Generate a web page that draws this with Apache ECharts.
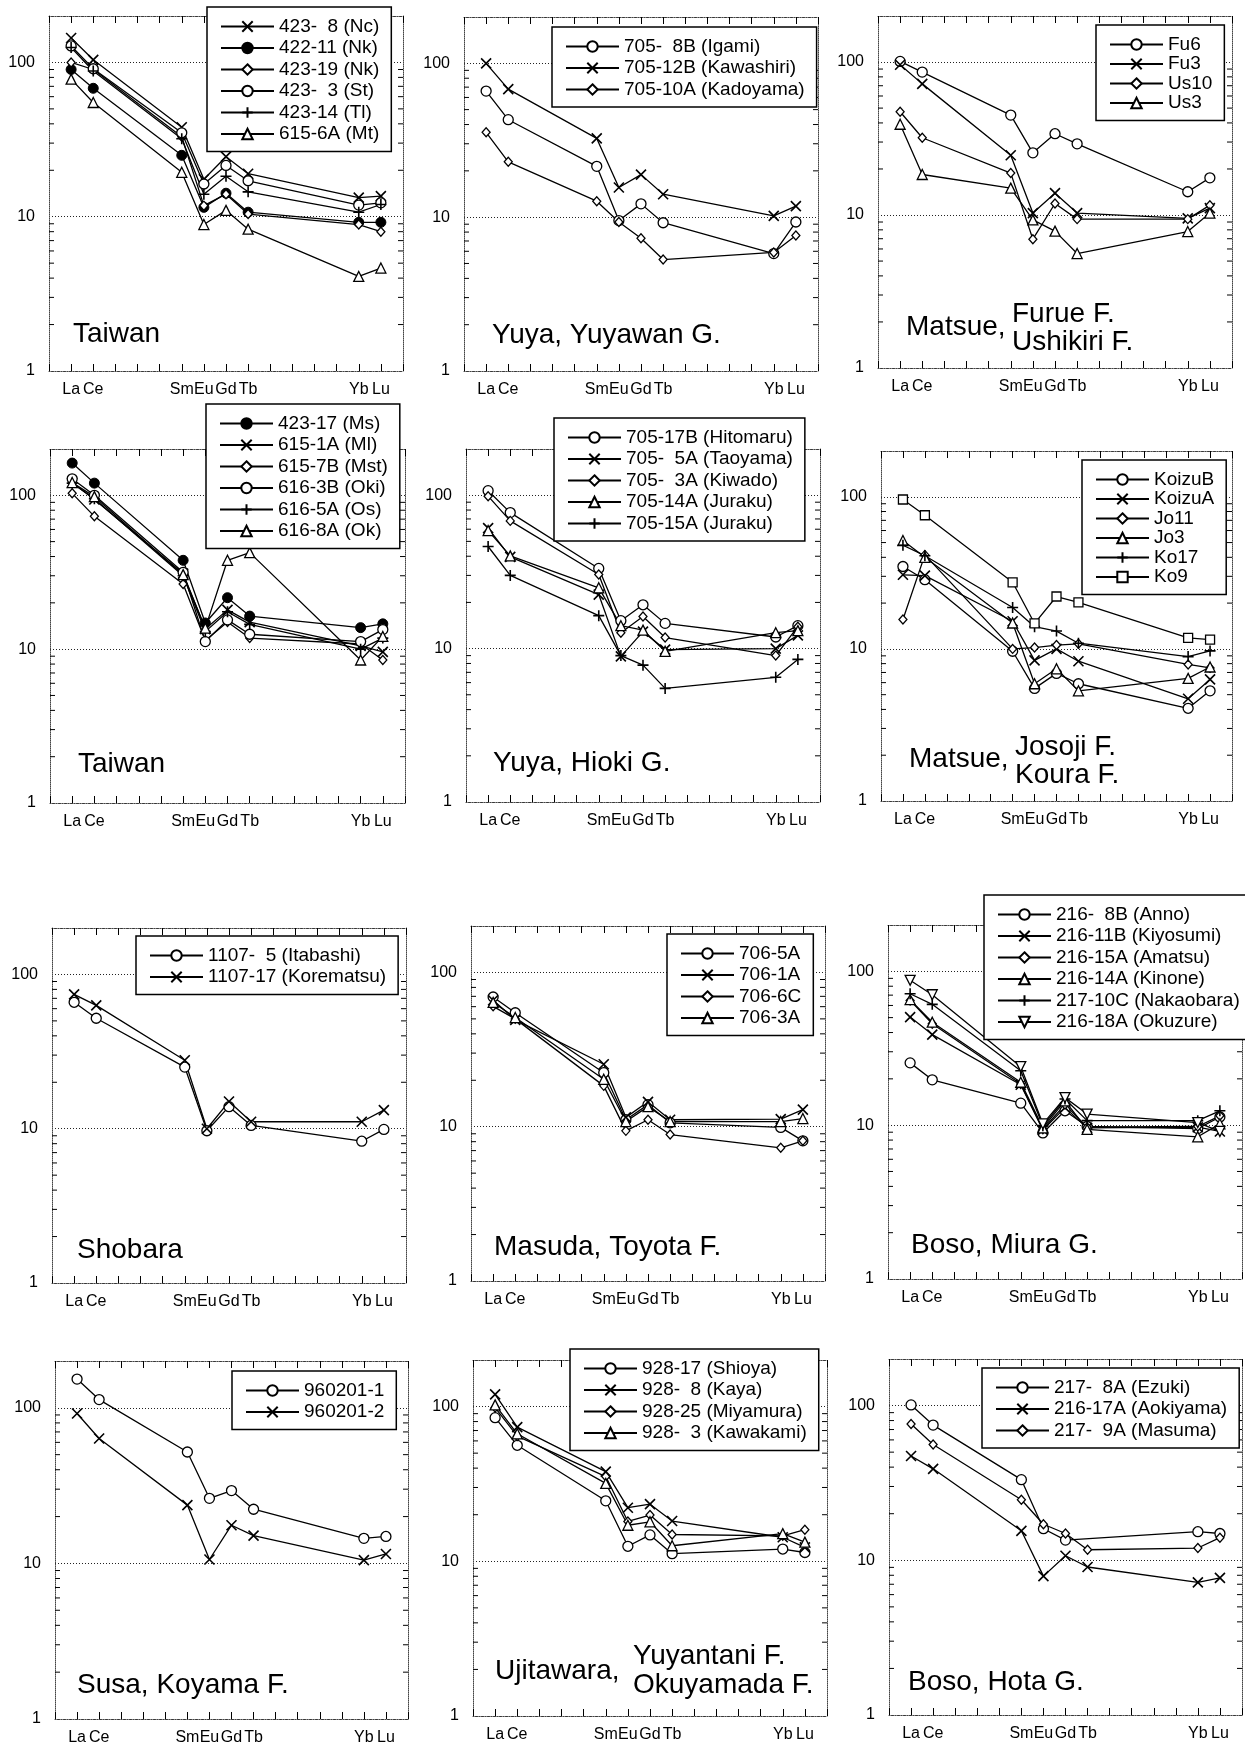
<!DOCTYPE html>
<html><head><meta charset="utf-8">
<script src="https://cdn.jsdelivr.net/npm/echarts@6/dist/echarts.min.js"></script>
<style>html,body{margin:0;padding:0;background:#fff}#c{width:1245px;height:1748px}</style>
</head><body><div id="c"></div>
<script>
// ---------- data ----------
const REE = ['', 'La','Ce','Pr','Nd','Pm','Sm','Eu','Gd','Tb','Dy','Ho','Er','Tm','Yb','Lu',''];
const MEASURED = ['La','Ce','Sm','Eu','Gd','Tb','Yb','Lu'];
const Y_TICKS = [1, 10, 100];
const Y_MINOR = [2,3,4,5,6,7,8,9,20,30,40,50,60,70,80,90];

const p1Title = ['Taiwan'];
const p1Names = ['423-  8 (Nc)', '422-11 (Nk)', '423-19 (Nk)', '423-  3 (St)', '423-14 (Tl)', '615-6A (Mt)'];
const p1Values = [
  [144, 104, 38, 17.5, 24.5, 19, 13.3, 13.6],
  [90, 68, 25, 11.5, 14.2, 10.7, 9.2, 9.2],
  [100, 90, 33, 11.8, 14, 10.4, 8.9, 8.0],
  [128, 91, 35, 16.3, 21.5, 17.1, 11.9, 12.3],
  [125, 88, 32, 14, 18.3, 14.5, 10.7, 12],
  [78, 55, 19.4, 8.9, 11, 8.3, 4.1, 4.65]
];
const p2Title = ['Yuya, Yuyawan G.'];
const p2Names = ['705-  8B (Igami)', '705-12B (Kawashiri)', '705-10A (Kadoyama)'];
const p2Values = [
  [66, 43, 21.4, 9.5, 12.2, 9.2, 5.8, 9.3],
  [100, 68, 32.5, 15.6, 18.9, 14.1, 10.2, 11.8],
  [35.6, 22.9, 12.7, 9.3, 7.3, 5.3, 5.9, 7.6]
];
const p3Title = ['Matsue,', 'Furue F.', 'Ushikiri F.'];
const p3Names = ['Fu6', 'Fu3', 'Us10', 'Us3'];
const p3Values = [
  [101, 86, 45, 25.5, 34, 29.2, 14.2, 17.5],
  [96, 72, 24.6, 10.3, 13.9, 10.3, 9.5, 11.1],
  [47.3, 32, 18.8, 6.95, 11.9, 9.4, 9.4, 11.6],
  [39.2, 18.4, 15, 9.3, 7.85, 5.6, 7.8, 10.3]
];
const p4Title = ['Taiwan'];
const p4Names = ['423-17 (Ms)', '615-1A (Ml)', '615-7B (Mst)', '616-3B (Oki)', '616-5A (Os)', '616-8A (Ok)'];
const p4Values = [
  [162, 120, 37.8, 14.8, 21.6, 16.4, 13.8, 14.6],
  [121, 94, 31, 13.5, 18, 15, 10.5, 9.6],
  [103, 73, 26.5, 11.4, 15, 11.8, 10.8, 8.5],
  [128, 100, 31.6, 11.2, 15.5, 12.5, 11.2, 13.4],
  [120, 95, 30, 13, 17.5, 14.5, 10, 11.8],
  [121, 98, 30.5, 13.7, 37.8, 42.4, 8.5, 12.1]
];
const p5Title = ['Yuya, Hioki G.'];
const p5Names = ['705-17B (Hitomaru)', '705-  5A (Taoyama)', '705-  3A (Kiwado)', '705-14A (Juraku)', '705-15A (Juraku)'];
const p5Values = [
  [107, 77, 33.3, 15.2, 19.3, 14.6, 11.9, 14.1],
  [61, 39.6, 22.5, 8.9, 12.9, 9.85, 10, 12.2],
  [98.5, 68, 30.4, 12.7, 16.2, 11.8, 9.0, 13.9],
  [58.8, 40.2, 24.9, 14.1, 13.2, 9.6, 12.7, 13.1],
  [46.3, 30, 16.4, 9.0, 7.8, 5.5, 6.5, 8.5]
];
const p6Title = ['Matsue,', 'Josoji F.', 'Koura F.'];
const p6Names = ['KoizuB', 'KoizuA', 'Jo11', 'Jo3', 'Ko17', 'Ko9'];
const p6Values = [
  [34.8, 28.5, 9.65, 5.5, 6.9, 5.9, 4.07, 5.3],
  [30.7, 30.3, 15.2, 8.4, 10, 8.3, 4.7, 6.3],
  [15.6, 41.5, 10, 10.2, 10.6, 10.8, 7.9, 7.5],
  [51.6, 40, 14.8, 5.9, 7.4, 5.3, 6.4, 7.6],
  [48, 41, 18.7, 14, 13.1, 10.9, 8.9, 9.7],
  [96, 75.6, 27.4, 14.7, 22.1, 20.2, 11.8, 11.5]
];
const p7Title = ['Shobara'];
const p7Names = ['1107-  5 (Itabashi)', '1107-17 (Korematsu)'];
const p7Values = [
  [66, 52, 25.1, 9.7, 13.9, 10.5, 8.3, 9.9],
  [74.3, 63, 27.8, 10, 15, 11.1, 11.1, 13.2]
];
const p8Title = ['Masuda, Toyota F.'];
const p8Names = ['706-5A', '706-1A', '706-6C', '706-3A'];
const p8Values = [
  [69.3, 54.8, 22.4, 11.1, 13.9, 10.6, 9.9, 8.1],
  [66, 49.3, 25.4, 11.5, 14.5, 11.1, 11.2, 12.9],
  [60.3, 50, 18.4, 9.4, 11.1, 8.9, 7.3, 8.1],
  [64, 51, 20.3, 10.8, 13.5, 10.8, 10.8, 11.3]
];
const p9Title = ['Boso, Miura G.'];
const p9Names = ['216-  8B (Anno)', '216-11B (Kiyosumi)', '216-15A (Amatsu)', '216-14A (Kinone)', '217-10C (Nakaobara)', '216-18A (Okuzure)'];
const p9Values = [
  [25.4, 19.7, 13.9, 8.9, 12.4, 9.8, 9.5, 11.3],
  [50.4, 38.8, 18.3, 9.3, 13, 9.6, 9.7, 9.1],
  [64.7, 45.6, 18.5, 9.4, 13.6, 9.7, 9.8, 11.5],
  [65.5, 46.7, 19, 9.6, 14.4, 9.4, 8.4, 10.2],
  [71.5, 61, 22.6, 9.9, 14.8, 10.7, 10.7, 12.4],
  [87.4, 70.4, 24, 10.2, 15.1, 11.8, 10.4, 9.1]
];
const p10Title = ['Susa, Koyama F.'];
const p10Names = ['960201-1', '960201-2'];
const p10Values = [
  [153, 113, 52, 26.2, 29.4, 22.3, 14.5, 14.9],
  [92, 63.5, 23.7, 10.6, 17.6, 15.1, 10.5, 11.5]
];
const p11Title = ['Ujitawara,', 'Yuyantani F.', 'Okuyamada F.'];
const p11Names = ['928-17 (Shioya)', '928-  8 (Kaya)', '928-25 (Miyamura)', '928-  3 (Kawakami)'];
const p11Values = [
  [84.8, 56.2, 24.6, 12.5, 14.8, 11.2, 12, 11.4],
  [120, 73.7, 38, 22.2, 23.4, 18.2, 14.3, 12.3],
  [98.5, 64.4, 35.3, 18.1, 19.9, 14.9, 14.6, 16],
  [102.5, 66.7, 31.9, 17.1, 18, 12.6, 15.1, 13.3]
];
const p12Title = ['Boso, Hota G.'];
const p12Names = ['217-  8A (Ezuki)', '216-17A (Aokiyama)', '217-  9A (Masuma)'];
const p12Values = [
  [101, 74.8, 33.2, 16, 13.5, null, 15.3, 14.9],
  [47.2, 39, 15.5, 7.9, 10.7, 9.05, 7.2, 7.7],
  [76, 56, 24.6, 17.1, 14.9, 11.7, 12, 14]
];

// ---------- styles / layout ----------
const p1Marks = ['x','dot','diamond','circle','plus','triangle'];
const p2Marks = ['circle','x','diamond'];
const p3Marks = ['circle','x','diamond','triangle'];
const p4Marks = ['dot','x','diamond','circle','plus','triangle'];
const p5Marks = ['circle','x','diamond','triangle','plus'];
const p6Marks = ['circle','x','diamond','triangle','plus','square'];
const p7Marks = ['circle','x'];
const p8Marks = ['circle','x','diamond','triangle'];
const p9Marks = ['circle','x','diamond','triangle','plus','invtri'];
const p10Marks = ['circle','x'];
const p11Marks = ['circle','x','diamond','triangle'];
const p12Marks = ['circle','x','diamond'];

const panels = [
  {t:p1Title, n:p1Names, v:p1Values, m:p1Marks},
  {t:p2Title, n:p2Names, v:p2Values, m:p2Marks},
  {t:p3Title, n:p3Names, v:p3Values, m:p3Marks},
  {t:p4Title, n:p4Names, v:p4Values, m:p4Marks},
  {t:p5Title, n:p5Names, v:p5Values, m:p5Marks},
  {t:p6Title, n:p6Names, v:p6Values, m:p6Marks},
  {t:p7Title, n:p7Names, v:p7Values, m:p7Marks},
  {t:p8Title, n:p8Names, v:p8Values, m:p8Marks},
  {t:p9Title, n:p9Names, v:p9Values, m:p9Marks},
  {t:p10Title, n:p10Names, v:p10Values, m:p10Marks},
  {t:p11Title, n:p11Names, v:p11Values, m:p11Marks},
  {t:p12Title, n:p12Names, v:p12Values, m:p12Marks}
];
// g: grid [left, top, width, height]; l: legend box [left, top, itemGap]; tx: label anchors
const layout = [
  {g:[49,16,354,355],   l:[207,7,2.5],     tx:[[73,334]]},
  {g:[464,17,354,354],  l:[552,27,2.5],    tx:[[492,335]]},
  {g:[878,16,354,352],  l:[1096,25,0.5],   tx:[[906,327],[1012,314],[1012,342]]},
  {g:[50,449,355,354],  l:[206,404,2.5],   tx:[[78,764]]},
  {g:[466,449,354,353], l:[554,418,2.5],   tx:[[493,763]]},
  {g:[881,451,351,350], l:[1082,460,0.5],  tx:[[909,759],[1015,747],[1015,775]]},
  {g:[52,928,354,355],  l:[136,936,2.5],   tx:[[77,1250]]},
  {g:[471,926,354,355], l:[667,934,2.5],   tx:[[494,1247]]},
  {g:[888,925,354,354], l:[984,895,2.5],   tx:[[911,1245]]},
  {g:[55,1361,353,358], l:[232,1371,2.5],  tx:[[77,1685]]},
  {g:[473,1360,354,356],l:[570,1349,2.5],  tx:[[495,1671],[633,1656],[633,1685]]},
  {g:[889,1359,354,356],l:[982,1368,2.5],  tx:[[908,1682]]}
];

const FONT = '"Liberation Sans", Arial, Helvetica, sans-serif';
const WHITE = {color:'#fff', borderColor:'#000', borderWidth:1.3};
const MARK = {
  x:       {symbol:'path://M0,0L10,10M10,0L0,10', size:10, item:{color:'#000', borderColor:'#000', borderWidth:1.6}},
  plus:    {symbol:'path://M5,0L5,10M0,5L10,5', size:11, item:{color:'#000', borderColor:'#000', borderWidth:1.6}},
  dot:     {symbol:'circle', size:10, item:{color:'#000', borderColor:'#000', borderWidth:1}},
  circle:  {symbol:'circle', size:10, item:WHITE},
  diamond: {symbol:'diamond', size:[8,9], item:WHITE},
  triangle:{symbol:'triangle', size:10, item:WHITE},
  invtri:  {symbol:'triangle', size:10, rot:180, item:WHITE},
  square:  {symbol:'rect', size:9, item:WHITE}
};

const grid = [], xAxis = [], yAxis = [], series = [], legend = [], graphic = [];
const dotLine = {show:true, onZero:false, lineStyle:{color:'#444', width:1, type:[1,1]}};

panels.forEach((p, i) => {
  const L = layout[i];
  grid.push({left:L.g[0], top:L.g[1], width:L.g[2], height:L.g[3], show:false});
  const xBase = {type:'category', gridIndex:i, data:REE, boundaryGap:false,
    axisLine:dotLine,
    axisTick:{show:true, inside:true, length:7, interval:0, lineStyle:{color:'#000', width:1}},
    splitLine:{show:false}};
  xAxis.push(Object.assign({}, xBase, {position:'bottom',
    axisLabel:{interval:0, margin:11, fontSize:16, fontFamily:FONT, color:'#000',
      formatter: v => MEASURED.includes(v) ? v : ''}}));
  xAxis.push(Object.assign({}, xBase, {position:'top', axisLabel:{show:false}}));
  yAxis.push({type:'log', logBase:10, gridIndex:i, min:1, max:200, position:'left',
    axisLine:dotLine, axisTick:{show:false},
    axisLabel:{fontSize:16, fontFamily:FONT, color:'#000', margin:14,
      formatter: v => Y_TICKS.includes(Math.round(v)) && Math.abs(v - Math.round(v)) < 1e-6 ? String(Math.round(v)) : ''},
    splitLine:{show:true, lineStyle:{color:'#222', width:1, type:[1,2]}}});
  yAxis.push({type:'log', logBase:10, gridIndex:i, min:1, max:200, position:'right',
    axisLine:dotLine, axisTick:{show:false}, axisLabel:{show:false}, splitLine:{show:false}});

  // minor log ticks on left and right frame
  series.push({type:'custom', xAxisIndex:2*i, yAxisIndex:2*i, silent:true, z:3, animation:false,
    data: Y_MINOR.map(v => [0, v]),
    renderItem: (params, api) => {
      const v = api.value(1);
      const a = api.coord([0, v]), b = api.coord([16, v]);
      return {type:'group', children:[
        {type:'line', shape:{x1:a[0], y1:a[1], x2:a[0]+5, y2:a[1]}, style:{stroke:'#000', lineWidth:1}},
        {type:'line', shape:{x1:b[0]-5, y1:b[1], x2:b[0], y2:b[1]}, style:{stroke:'#000', lineWidth:1}}
      ]};
    }});

  p.n.forEach((nm, j) => {
    const mk = MARK[p.m[j]];
    series.push({type:'line', name:nm, xAxisIndex:2*i, yAxisIndex:2*i,
      data: MEASURED.map((e, k) => [e, p.v[j][k]]), connectNulls:true,
      symbol:mk.symbol, symbolSize:mk.size, symbolRotate:mk.rot || 0, showSymbol:true,
      itemStyle:mk.item, lineStyle:{color:'#000', width:1.3}, color:'#000',
      z:5, animation:false, emphasis:{disabled:true}});
  });

  legend.push({orient:'vertical', left:L.l[0], top:L.l[1], data:p.n, selectedMode:false,
    itemWidth:53, itemHeight:13, itemGap:L.l[2], padding:[10,12,8,13],
    borderColor:'#000', borderWidth:1.5, backgroundColor:'#fff', z:10,
    textStyle:{fontSize:19, fontFamily:FONT, color:'#000', lineHeight:18}});

  p.t.forEach((txt, k) => {
    graphic.push({type:'text', x:L.tx[k][0], y:L.tx[k][1], silent:true, z:20,
      style:{text:txt, fontSize:28, fontFamily:FONT, fill:'#000', verticalAlign:'middle', align:'left'}});
  });
});

const chart = echarts.init(document.getElementById('c'), null, {renderer:'canvas'});
chart.setOption({backgroundColor:'#fff', animation:false, grid, xAxis, yAxis, series, legend, graphic});
</script>
</body></html>
